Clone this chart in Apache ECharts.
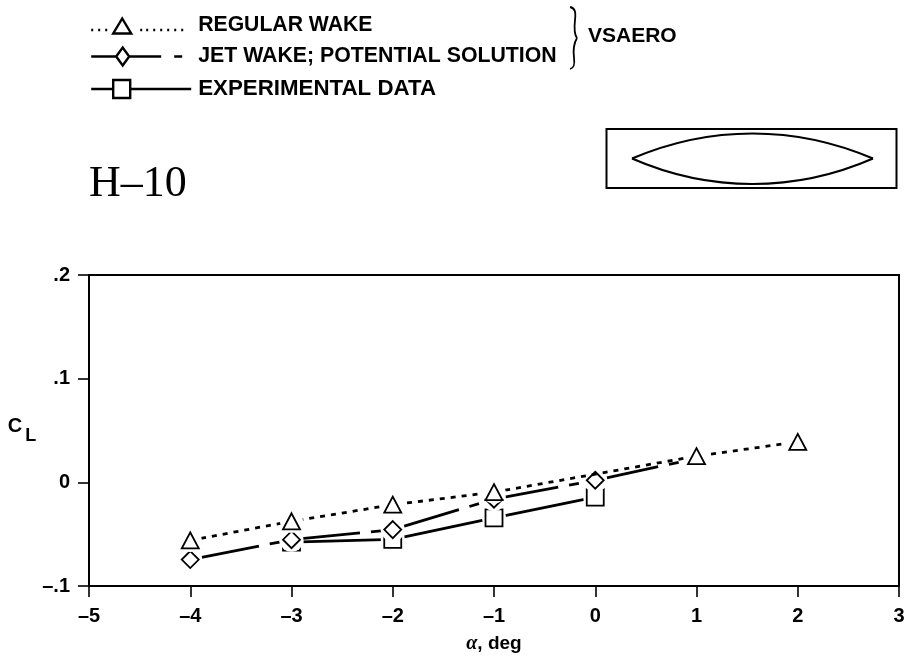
<!DOCTYPE html>
<html><head><meta charset="utf-8">
<style>html,body{margin:0;padding:0;background:#fff}#c{width:907px;height:656px}</style>
<script src="https://cdn.jsdelivr.net/npm/echarts@6/dist/echarts.min.js"></script>
</head><body><div id="c"></div>
<script>
// ---- data ----
const alpha        = [-4, -3, -2, -1, 0, 1, 2];
const regularWake  = [-0.056, -0.0376, -0.0216, -0.0095, null, 0.0253, 0.039];
const jetWake      = [-0.0745, -0.0553, -0.0456, -0.0162, 0.002, null, null];
const jetWakeEnd   = [1, 0.023];           // line reaches the triangle at alpha = 1, no own marker
const experimental = [null, -0.0577, -0.055, -0.0342, -0.0143, null, null];
const xTickLabels  = {'-5':'–5','-4':'–4','-3':'–3','-2':'–2','-1':'–1','0':'0','1':'1','2':'2','3':'3'};
const yTickLabels  = {'-0.1':'–.1','0.0':'0','0.1':'.1','0.2':'.2'};
const names = ['REGULAR WAKE','JET WAKE; POTENTIAL SOLUTION','EXPERIMENTAL DATA'];

const pts = v => alpha.map((a,i)=>[a,v[i]]).filter(p=>p[1]!==null);
const FONT = '"Liberation Sans", Arial, sans-serif';

function layer(name, data, lineData, symbol, size, halo, dash, z){
  const base = {animation:false, silent:true, tooltip:{show:false}};
  return [
    {...base, type:'line', name, data:lineData, symbol:'none', z,
     lineStyle:{color:'#000',width:2.8,type:dash,cap:'butt'}, itemStyle:{color:'#000'}},
    {...base, type:'scatter', name:name+' (gap)', data, symbol:'circle', symbolSize:halo, z:z+1,
     itemStyle:{color:'#fff',borderWidth:0,opacity:1}},
    {...base, type:'scatter', name:name+' (marker)', data, symbol, symbolSize:size, z:z+2,
     itemStyle:{color:'#fff',borderColor:'#000',borderWidth:1.8,opacity:1}}
  ];
}
function curve(x1,y1,cpx1,cpy1,cpx2,cpy2,x2,y2,lw){
  return {type:'bezierCurve',shape:{x1,y1,cpx1,cpy1,cpx2,cpy2,x2,y2},style:{fill:'none',stroke:'#000',lineWidth:lw}};
}

const iconTri = 'path://M1 12.5L3 12.5M8 12.5L10 12.5M15 12.5L17 12.5M23 16L41 16L32 1ZM50 12.5L52 12.5M56 12.5L58 12.5M63 12.5L65 12.5M70 12.5L72 12.5M77 12.5L79 12.5M84 12.5L86 12.5M91 12.5L93 12.5M103 12.5L103 12.5M0 0L0 0';
const iconDia = 'path://M1 9.5L26 9.5M39 9.5L71 9.5M84 9.5L92 9.5M26 9.5L32.5 0.5L39 9.5L32.5 18.5ZM103 9.5L103 9.5M0 9.5L0 9.5';
const iconSqu = 'path://M1 10L23 10M40 10L101 10M23 1L40 1L40 19L23 19ZM103 10L103 10M0 10L0 10';
const legendBase = {left:89, itemWidth:103, selectedMode:false, padding:0};
const legendText = size => ({color:'#000',fontFamily:FONT,fontWeight:'bold',fontSize:size});
const legendStyle = {color:'transparent',borderColor:'#000',borderWidth:2.4};

const option = {
  backgroundColor:'#fff',
  animation:false,
  title:{text:'H–10',left:89,top:162,padding:0,textStyle:{fontFamily:'"Liberation Serif",serif',fontWeight:'normal',fontSize:44,color:'#000'}},
  legend:[
    {...legendBase, top:15, itemHeight:16, textStyle:legendText(21.2), data:[{name:names[0],icon:iconTri,itemStyle:legendStyle}]},
    {...legendBase, top:46, itemHeight:18, textStyle:legendText(21.3), data:[{name:names[1],icon:iconDia,itemStyle:legendStyle}]},
    {...legendBase, top:78, itemHeight:19, textStyle:legendText(22.3), data:[{name:names[2],icon:iconSqu,itemStyle:legendStyle}]}
  ],
  grid:{left:89,right:8,top:275,bottom:70,outerBoundsMode:'none',show:true,borderColor:'#000',borderWidth:2,backgroundColor:'transparent'},
  xAxis:{type:'value',min:-5,max:3,interval:1,
    axisLine:{onZero:false,lineStyle:{color:'#000',width:2}},axisTick:{length:11,lineStyle:{color:'#000',width:1.6}},
    splitLine:{show:false},
    axisLabel:{color:'#000',fontFamily:FONT,fontWeight:'bold',fontSize:20,margin:20,formatter:v=>xTickLabels[String(v)]},
    name:'{a|α}, deg',nameLocation:'middle',nameGap:48,
    nameTextStyle:{color:'#000',fontFamily:FONT,fontWeight:'bold',fontSize:19,
      rich:{a:{fontFamily:'"Liberation Serif",serif',fontStyle:'italic',fontWeight:'bold',fontSize:20,color:'#000'}}}},
  yAxis:{type:'value',min:-0.1,max:0.2,interval:0.1,
    axisLine:{onZero:false,lineStyle:{color:'#000',width:2}},axisTick:{length:11,lineStyle:{color:'#000',width:1.6}},
    splitLine:{show:false},
    axisLabel:{color:'#000',fontFamily:FONT,fontWeight:'bold',fontSize:20,margin:19,formatter:v=>yTickLabels[v.toFixed(1)]},
    name:'{c|C}{l|L}',nameLocation:'middle',nameRotate:0,nameGap:52,
    nameTextStyle:{color:'#000',fontFamily:FONT,fontWeight:'bold',
      rich:{c:{fontFamily:FONT,fontWeight:'bold',fontSize:20,color:'#000',padding:[0,0,8,0]},
            l:{fontFamily:FONT,fontWeight:'bold',fontSize:18,color:'#000',padding:[12,0,0,3]}}}},
  series:[
    ...layer(names[2],pts(experimental),pts(experimental),'rect',17,24,'solid',2),
    ...layer(names[1],pts(jetWake),[...pts(jetWake),jetWakeEnd],'diamond',17,24,[70,11,10,11],6),
    ...layer(names[0],pts(regularWake),pts(regularWake),'triangle',[17,16],23,[5,6],10)
  ],
  graphic:[
    {type:'text',x:588,y:26,style:{text:'VSAERO',fill:'#000',font:'bold 21px '+FONT}},
    curve(570,7,575,8,576,12,575,20,1.8),
    curve(575,20,574,29,574,34,577,38,1.8),
    curve(577,38,574,43,573,50,574,58,1.8),
    curve(574,58,575,65,574,68,570,69,1.8),
    {type:'rect',shape:{x:606.5,y:129,width:290,height:59},style:{fill:'none',stroke:'#000',lineWidth:2}},
    curve(632,158.5,710,125,795,125,873,158.5,2),
    curve(873,158.5,795,192.5,710,192.5,632,158.5,2)
  ]
};
echarts.init(document.getElementById('c'),null,{renderer:'canvas'}).setOption(option);
</script></body></html>
